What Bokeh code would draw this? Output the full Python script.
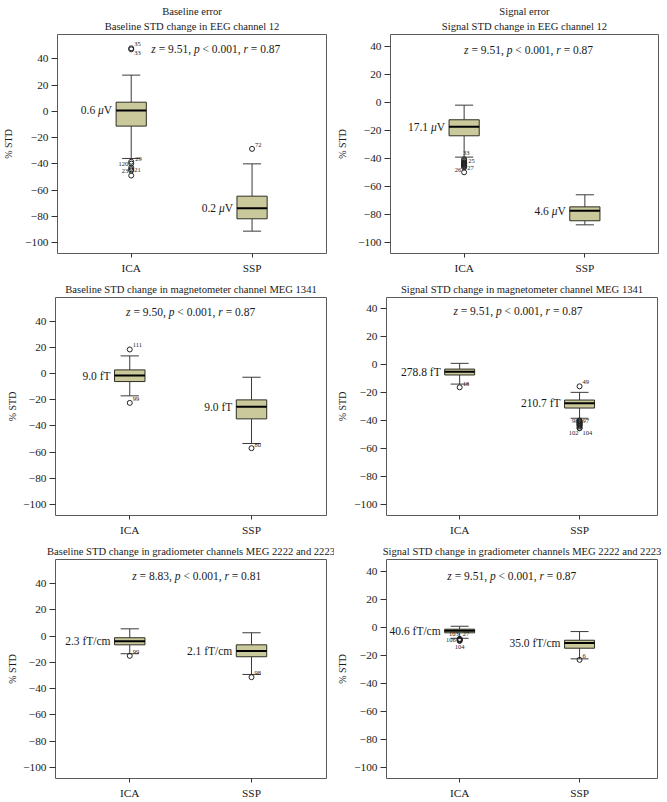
from bokeh.plotting import figure
from bokeh.models import ColumnDataSource, FixedTicker, Range1d, Title
from bokeh.layouts import column, row
from bokeh.embed import file_html
from bokeh.resources import INLINE
from bokeh.core.properties import value, field

# ---------------- data ----------------
groups = ["ICA", "SSP"]
group_pos = [1, 2]

super_titles = ["Baseline error", "Signal error", "", "", "", ""]
titles = [
    "Baseline STD change in EEG channel 12",
    "Signal STD change in EEG channel 12",
    "Baseline STD change in magnetometer channel MEG 1341",
    "Signal STD change in magnetometer channel MEG 1341",
    "Baseline STD change in gradiometer channels MEG 2222 and 2223",
    "Signal STD change in gradiometer channels MEG 2222 and 2223",
]
z_stat = ["9.51", "9.51", "9.50", "9.51", "8.83", "9.51"]
p_stat = ["0.001", "0.001", "0.001", "0.001", "0.001", "0.001"]
r_stat = ["0.87", "0.87", "0.87", "0.87", "0.81", "0.87"]

# box statistics per panel: [ICA, SSP]
whisker_hi = [[27.6, -39.9], [-2.0, -65.8], [13.5, -2.8], [0.8, -19.9], [5.6, 2.6], [0.7, -3.1]]
q3 = [[7.0, -64.5], [-12.4, -74.4], [2.8, -20.1], [-3.3, -25.4], [-1.2, -6.6], [-1.4, -9.3]]
median = [[0.7, -73.6], [-17.4, -77.2], [-1.5, -25.4], [-5.2, -27.7], [-3.8, -11.4], [-2.6, -11.2]]
q1 = [[-11.2, -81.7], [-23.8, -84.3], [-6.1, -34.6], [-7.5, -31.1], [-6.6, -15.7], [-4.0, -15.0]]
whisker_lo = [[-35.8, -91.1], [-39.0, -87.2], [-17.0, -53.4], [-14.0, -38.4], [-13.4, -29.2], [-7.9, -22.6]]
amplitude = [["0.6 μV", "0.2 μV"], ["17.1 μV", "4.6 μV"], ["9.0 fT", "9.0 fT"],
             ["278.8 fT", "210.7 fT"], ["2.3 fT/cm", "2.1 fT/cm"], ["40.6 fT/cm", "35.0 fT/cm"]]

# outliers per panel: group, value, case id
outlier_group = [
    ["ICA", "ICA", "ICA", "ICA", "ICA", "ICA", "ICA", "ICA", "SSP"],
    ["ICA"] * 11,
    ["ICA", "ICA", "SSP"],
    ["ICA", "SSP", "SSP", "SSP", "SSP", "SSP", "SSP", "SSP", "SSP", "SSP", "SSP", "SSP", "SSP"],
    ["ICA", "SSP"],
    ["ICA", "ICA", "ICA", "ICA", "ICA", "SSP"],
]
outlier_value = [
    [48.0, 47.2, -38.3, -39.7, -42.8, -44.0, -45.0, -48.8, -28.5],
    [-40.5, -41.5, -42.5, -43.0, -43.5, -44.0, -44.5, -45.0, -45.5, -46.3, -49.8],
    [18.4, -22.4, -57.0],
    [-16.3, -15.6, -40.0, -40.5, -41.0, -41.5, -42.0, -42.5, -43.0, -43.5, -44.0, -45.2, -45.6],
    [-15.0, -31.3],
    [-8.3, -8.6, -9.0, -9.4, -9.8, -23.3],
]
outlier_id = [
    ["35", "33", "29", "120", "", "21", "23", "", "72"],
    ["33", "25", "", "", "", "", "", "", "", "27", "26"],
    ["111", "99", "80"],
    ["18", "49", "98", "97", "", "", "", "", "", "", "", "102", "104"],
    ["99", "98"],
    ["103", "27", "", "106", "104", "6"],
]

# ---------------- layout / style ----------------
FONT = "Liberation Serif"
TXT = "#1a1a1a"
BOX_FILL = "#c9c99b"
BOX_LINE = "#2e2e22"
WHISK = "#3a3a3a"
FRAME = "#5a5a5a"
BOX_W = 0.25
CAP_W = 0.15
TITLE_PX = "10.6px"
TICK_PX = "11.3px"
YLAB_PX = "10px"
ANN = 11.5

UR, LR, R, L = (3, -4, "left"), (3, 4, "left"), (4, 0, "left"), (-3, 0, "right")
NO = (0, 0, "left")
id_offsets = [
    [UR, LR, (4, -3, "left"), L, NO, (3, 1, "left"), L, NO, UR],
    [(2, -6, "center"), R, NO, NO, NO, NO, NO, NO, NO, (3, 1, "left"), (-3, -2, "right")],
    [UR, UR, (3, -3, "left")],
    [(3, -3, "left"), UR, (-1, 0, "right"), (3, 0, "left"), NO, NO, NO, NO, NO, NO, NO,
     (-1, 5, "right"), (3, 5, "left")],
    [UR, UR],
    [(-1, -5, "right"), (3, -5, "left"), NO, (-4, 0, "right"), (0, 6, "center"), UR],
]

cfg = [
    dict(w=334, h=276, bl=55, br=8, bt=34, bb=23, xr=(0.39, 2.616), yr=(-108.1, 58.5),
         yls=8, sx=1.70, sy=47.6, tso=5, toff=0),
    dict(w=333, h=276, bl=51, br=9, bt=34, bb=23, xr=(0.39, 2.61), yr=(-107.6, 48.3),
         yls=7, sx=1.534, sy=37.6, tso=5, toff=0),
    dict(w=334, h=264, bl=55, br=8, bt=21, bb=25, xr=(0.39, 2.616), yr=(-108.4, 58.1),
         yls=2, sx=1.50, sy=46.9, tso=5, toff=0),
    dict(w=333, h=264, bl=47, br=10, bt=21, bb=25, xr=(0.39, 2.65), yr=(-107.8, 47.8),
         yls=3, sx=1.486, sy=37.9, tso=5, toff=0),
    dict(w=334, h=261, bl=55, br=8, bt=19, bb=23, xr=(0.39, 2.616), yr=(-108.6, 58.5),
         yls=2, sx=1.55, sy=45.9, tso=6, toff=-4),
    dict(w=333, h=261, bl=47, br=10, bt=19, bb=23, xr=(0.39, 2.65), yr=(-108.1, 48.4),
         yls=3, sx=1.435, sy=36.4, tso=6, toff=0),
]

REG_W = {' ': 250, '=': 564, '<': 564, ',': 250, '.': 250, 'V': 722, 'f': 333, 'T': 611,
         '/': 278, 'c': 444, 'm': 778}
for d in "0123456789":
    REG_W[d] = 500
ITA_W = {'z': 389, 'p': 500, 'r': 389, 'μ': 500}


def text_w(s, italic, size):
    tbl = ITA_W if italic else REG_W
    return sum(tbl.get(ch, 500) for ch in s) * size / 1000.0


def layout_segments(segs, size, start):
    out = []
    pos = start
    for s, it in segs:
        lead = len(s) - len(s.lstrip(' '))
        pos += text_w(' ' * lead, False, size)
        core = s.strip(' ')
        out.append((core, pos, "italic" if it else "normal"))
        pos += text_w(core, it, size)
        trail = len(s) - len(s.rstrip(' '))
        pos += text_w(' ' * trail, False, size)
    return out


def total_w(segs, size):
    return sum(text_w(s, it, size) for s, it in segs)


def make_panel(i):
    c = cfg[i]
    p = figure(width=c["w"], height=c["h"], output_backend="svg", toolbar_location=None,
               x_range=Range1d(*c["xr"]), y_range=Range1d(*c["yr"]),
               min_border_left=c["bl"], min_border_right=c["br"],
               min_border_top=c["bt"], min_border_bottom=c["bb"],
               title=(super_titles[i] or titles[i]))
    t = p.title
    t.text_font = FONT
    t.text_font_size = TITLE_PX
    t.text_font_style = "normal"
    t.text_color = TXT
    t.align = "center"
    t.offset = c["toff"]
    t.standoff = 0 if super_titles[i] else c["tso"]
    if super_titles[i]:
        p.add_layout(Title(text=titles[i], text_font=FONT, text_font_size=TITLE_PX,
                           text_font_style="normal", text_color=TXT, align="center",
                           standoff=c["tso"]), "above")
    p.background_fill_color = "white"
    p.border_fill_color = "white"
    p.outline_line_color = FRAME
    p.outline_line_width = 1
    p.grid.visible = False

    xa = p.xaxis[0]
    xa.ticker = FixedTicker(ticks=group_pos)
    xa.major_label_overrides = {gp: g for gp, g in zip(group_pos, groups)}
    xa.axis_label = None
    ya = p.yaxis[0]
    yt = list(range(-100, 41, 20))
    ya.ticker = FixedTicker(ticks=yt)
    ya.major_label_overrides = {v: (f"\u2212{abs(v)}" if v < 0 else str(v)) for v in yt}
    ya.axis_label = "% STD"
    ya.axis_label_standoff = c["yls"]
    for ax in (xa, ya):
        ax.axis_line_color = None
        ax.major_tick_line_color = "#333333"
        ax.minor_tick_line_color = None
        ax.major_tick_in = 0
        ax.major_label_text_font = FONT
        ax.major_label_text_font_size = TICK_PX
        ax.major_label_text_color = TXT
        ax.axis_label_text_font = FONT
        ax.axis_label_text_font_size = YLAB_PX
        ax.axis_label_text_font_style = "normal"
        ax.axis_label_text_color = TXT
    xa.major_tick_out = 4
    xa.major_label_standoff = 4
    ya.major_tick_out = 6
    ya.major_label_standoff = 3

    src = ColumnDataSource(dict(
        x=group_pos, q1=q1[i], q3=q3[i], med=median[i], hi=whisker_hi[i], lo=whisker_lo[i],
        left=[g - BOX_W / 2 for g in group_pos], right=[g + BOX_W / 2 for g in group_pos],
        cl=[g - CAP_W / 2 for g in group_pos], cr=[g + CAP_W / 2 for g in group_pos],
    ))
    p.segment(x0="x", y0="q3", x1="x", y1="hi", source=src, line_color=WHISK, line_width=1)
    p.segment(x0="x", y0="q1", x1="x", y1="lo", source=src, line_color=WHISK, line_width=1)
    p.segment(x0="cl", y0="hi", x1="cr", y1="hi", source=src, line_color=WHISK, line_width=1)
    p.segment(x0="cl", y0="lo", x1="cr", y1="lo", source=src, line_color=WHISK, line_width=1)
    p.quad(left="left", right="right", top="q3", bottom="q1", source=src,
           fill_color=BOX_FILL, line_color=BOX_LINE, line_width=1)
    p.segment(x0="left", y0="med", x1="right", y1="med", source=src,
              line_color="black", line_width=2)

    ox = [group_pos[groups.index(g)] for g in outlier_group[i]]
    osrc = ColumnDataSource(dict(
        x=ox, y=outlier_value[i], t=outlier_id[i],
        dx=[o[0] for o in id_offsets[i]], dy=[o[1] for o in id_offsets[i]],
        al=[o[2] for o in id_offsets[i]],
    ))
    p.scatter(x="x", y="y", source=osrc, marker="circle", size=5, fill_color=None,
              line_color="#222222", line_width=1)
    p.text(x="x", y="y", text="t", x_offset="dx", y_offset="dy", text_align=field("al"),
           source=osrc, text_baseline="middle", text_font=value(FONT),
           text_font_size="6.5px", text_color=TXT)

    rows_ = dict(x=[], y=[], text=[], dx=[], style=[])
    for k, g in enumerate(group_pos):
        s = amplitude[i][k]
        segs = []
        buf = ""
        for ch in s:
            if ch == "μ":
                if buf:
                    segs.append((buf, False))
                    buf = ""
                segs.append(("μ", True))
            else:
                buf += ch
        if buf:
            segs.append((buf, False))
        W = total_w(segs, ANN)
        for tx, off, st in layout_segments(segs, ANN, -4 - W):
            rows_["x"].append(g - BOX_W / 2)
            rows_["y"].append(median[i][k])
            rows_["text"].append(tx)
            rows_["dx"].append(off)
            rows_["style"].append(st)
    p.text(x="x", y="y", text="text", x_offset="dx", text_font_style=field("style"),
           source=ColumnDataSource(rows_), text_align="left", text_baseline="middle",
           text_font=value(FONT), text_font_size=f"{ANN}px", text_color=TXT)

    segs = [("z", True), (" = " + z_stat[i] + ", ", False), ("p", True),
            (" < " + p_stat[i] + ", ", False), ("r", True), (" = " + r_stat[i], False)]
    W = total_w(segs, ANN)
    srows = dict(x=[], y=[], text=[], dx=[], style=[])
    for tx, off, st in layout_segments(segs, ANN, -W / 2):
        srows["x"].append(c["sx"])
        srows["y"].append(c["sy"])
        srows["text"].append(tx)
        srows["dx"].append(off)
        srows["style"].append(st)
    p.text(x="x", y="y", text="text", x_offset="dx", text_font_style=field("style"),
           source=ColumnDataSource(srows), text_align="left", text_baseline="middle",
           text_font=value(FONT), text_font_size=f"{ANN}px", text_color=TXT)
    return p


panels = [make_panel(i) for i in range(6)]
layout = column(row(panels[0], panels[1]), row(panels[2], panels[3]), row(panels[4], panels[5]))
open("out.html", "w").write(file_html(layout, INLINE))
